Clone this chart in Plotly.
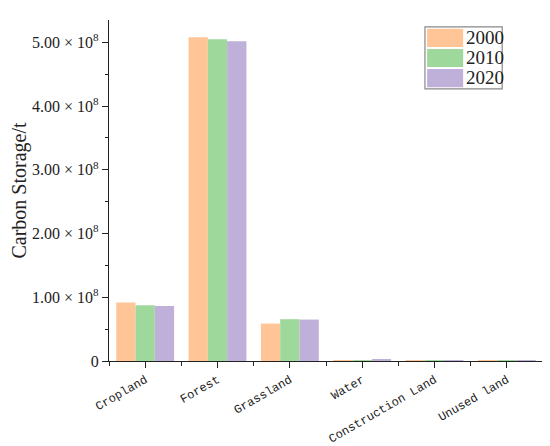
import plotly.graph_objects as go

categories = ["Cropland", "Forest", "Grassland", "Water", "Construction Land", "Unused land"]
years = ["2000", "2010", "2020"]
# carbon storage, in units of 1e8 t
storage_2000 = [0.916, 5.08, 0.587, 0.004, 0.004, 0.001]
storage_2010 = [0.873, 5.047, 0.656, 0.004, 0.010, 0.001]
storage_2020 = [0.862, 5.016, 0.650, 0.020, 0.008, 0.001]
colors = ["#FFC596", "#9FD89B", "#BEB0D8"]

ytick_vals = [0, 1, 2, 3, 4, 5]
ytick_text = ["0"] + ["%.2f × 10<sup>8</sup>" % v for v in ytick_vals[1:]]

xpos = list(range(len(categories)))
serif = "Liberation Serif"

fig = go.Figure()
for year, vals, col in zip(years, [storage_2000, storage_2010, storage_2020], colors):
    fig.add_trace(go.Bar(x=xpos, y=[v * 1e8 for v in vals], name=year,
                         marker=dict(color=col, line=dict(width=0)), showlegend=False))

# hand-made legend box with wide swatches, like the original
fig.add_shape(type="rect", xref="paper", yref="paper", x0=0.728, x1=0.906, y0=0.798, y1=0.980,
              line=dict(color="#888", width=1.2), fillcolor="white", layer="above")
row_top = [0.974, 0.915, 0.856]
for year, col, top in zip(years, colors, row_top):
    fig.add_shape(type="rect", xref="paper", yref="paper", x0=0.733, x1=0.816,
                  y0=top - 0.053, y1=top, line=dict(width=0), fillcolor=col, layer="above")
    fig.add_annotation(text=year, xref="paper", yref="paper", x=0.818, y=top - 0.026,
                       xanchor="left", yanchor="middle", showarrow=False,
                       font=dict(family=serif, size=19, color="#222"))

# page body has an 8px margin, so the figure is 8px smaller than the window
fig.update_layout(
    width=542, height=438,
    margin=dict(l=101, r=7, t=12, b=85),
    plot_bgcolor="white", paper_bgcolor="white",
    barmode="group", bargap=0.2, bargroupgap=0,
    font=dict(family=serif, color="#222"),
)
fig.update_xaxes(
    range=[-0.5, 5.5], tickvals=xpos, ticktext=categories, tickangle=-30,
    showline=True, linecolor="#222", linewidth=1.2, showgrid=False, zeroline=False,
    ticks="outside", ticklen=6, tickcolor="#222", automargin=False,
    minor=dict(tick0=0.5, dtick=1, ticks="outside", ticklen=4, tickcolor="#222"),
    tickfont=dict(family="Liberation Mono", size=12),
)
fig.update_yaxes(
    range=[0, 5.35e8], tickvals=[v * 1e8 for v in ytick_vals], ticktext=ytick_text,
    showline=True, linecolor="#222", linewidth=1.2, showgrid=False, zeroline=False,
    ticks="outside", ticklen=6, tickcolor="#222", automargin=False,
    minor=dict(tick0=0, dtick=0.5e8, ticks="outside", ticklen=3, tickcolor="#222"),
    tickfont=dict(family=serif, size=16),
    title=dict(text="Carbon Storage/t", font=dict(family=serif, size=20), standoff=10),
)

fig.write_html("out.html")
